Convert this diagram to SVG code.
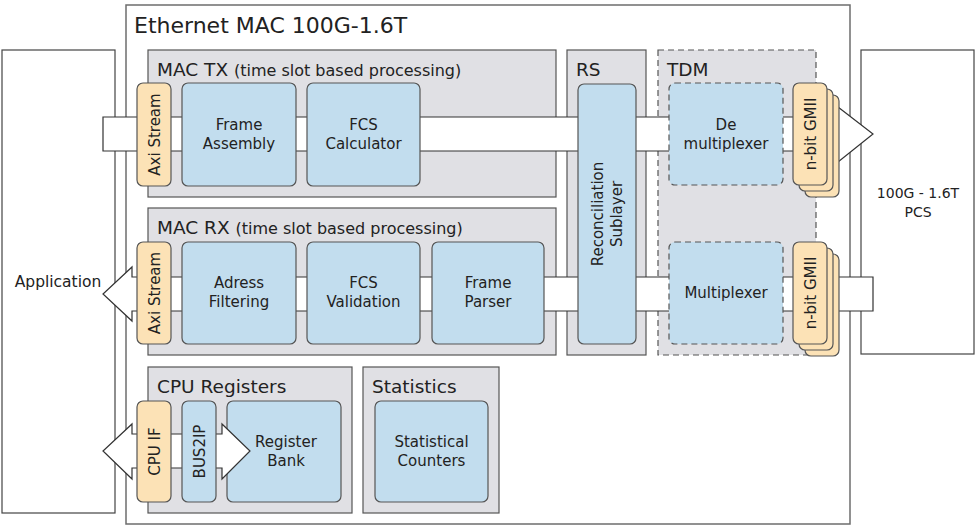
<svg xmlns="http://www.w3.org/2000/svg" width="976" height="526" viewBox="0 0 976 526">
<style>
text{font-family:'DejaVu Sans','Open Sans','Noto Sans',sans-serif;fill:#222;}
.lbl{font-size:15px;text-anchor:middle;}
.title{font-size:18.5px;}
.sub{font-size:16px;}
.grp{fill:#e0e0e4;stroke:#555;stroke-width:1.2;}
.blue{fill:#c2ddee;stroke:#555;stroke-width:1.2;}
.peach{fill:#fce2b6;stroke:#555;stroke-width:1.2;}
.dash{stroke-dasharray:6 4;}
.plain{fill:#fff;stroke:#444;stroke-width:1.2;}
.band{fill:#fff;stroke:#333;stroke-width:1.2;stroke-linejoin:miter;}
</style>
<rect width="976" height="526" fill="#fff"/>

<g id="ethernet-mac">
<rect x="126" y="5" width="724" height="519" fill="#fff" stroke="#6d6d6d" stroke-width="1.5"/>
<text x="134" y="33" style="font-size:22px">Ethernet MAC 100G-1.6T</text>
</g>

<g id="application">
<rect class="plain" x="2" y="50" width="113" height="463"/>
<text class="lbl" x="58" y="287" style="font-size:15.5px">Application</text>
</g>

<g id="pcs">
<rect class="plain" x="861" y="50" width="113" height="304"/>
<text x="918" y="198" style="font-size:14px;text-anchor:middle">100G - 1.6T</text>
<text x="918" y="217" style="font-size:14px;text-anchor:middle">PCS</text>
</g>

<g id="mac-tx">
<rect class="grp" x="148" y="50" width="408" height="147"/>
<text x="157" y="76"><tspan class="title">MAC TX </tspan><tspan class="sub">(time slot based processing)</tspan></text>
</g>

<g id="mac-rx">
<rect class="grp" x="148" y="208" width="408" height="147"/>
<text x="157" y="234"><tspan class="title">MAC RX </tspan><tspan class="sub">(time slot based processing)</tspan></text>
</g>

<g id="rs">
<rect class="grp" x="567" y="50" width="79" height="305"/>
<text class="title" x="576" y="76">RS</text>
</g>

<g id="tdm">
<rect class="grp dash" x="658" y="50" width="158" height="305"/>
<text class="title" x="667" y="76">TDM</text>
</g>

<g id="cpu-registers">
<rect class="grp" x="148" y="367" width="204" height="146"/>
<text class="title" x="157" y="393">CPU Registers</text>
</g>

<g id="statistics">
<rect class="grp" x="363" y="367" width="136" height="146"/>
<text class="title" x="372" y="393">Statistics</text>
</g>

<g id="register-bank">
<rect class="blue" x="227" y="401" width="114" height="101" rx="6"/>
<text class="lbl" x="286" y="447">Register</text>
<text class="lbl" x="286" y="466">Bank</text>
</g>

<g id="connectors">
<path class="band" d="M103,117 H838 V107 L873,134 L838,162 V151 H103 Z"/>
<path class="band" d="M873,277 V311 H132 V321 L103,294 L132,267 V277 Z"/>
<path class="band" d="M132,434 H222 V424 L250,451 L222,479 V468 H132 V479 L103,451 L132,424 Z"/>
</g>

<g id="axi-stream-tx">
<rect class="peach" x="137" y="83" width="34" height="103" rx="6"/>
<text class="lbl" transform="translate(154,134.5) rotate(-90)" y="5.5">Axi Stream</text>
</g>

<g id="frame-assembly">
<rect class="blue" x="182" y="83" width="114" height="103" rx="6"/>
<text class="lbl" x="239" y="130">Frame</text>
<text class="lbl" x="239" y="149">Assembly</text>
</g>

<g id="fcs-calculator">
<rect class="blue" x="307" y="83" width="113" height="103" rx="6"/>
<text class="lbl" x="363.5" y="130">FCS</text>
<text class="lbl" x="363.5" y="149">Calculator</text>
</g>

<g id="reconciliation-sublayer">
<rect class="blue" x="578" y="84" width="58" height="260" rx="6"/>
<text class="lbl" transform="translate(607,214) rotate(-90)" y="-4">Reconciliation</text>
<text class="lbl" transform="translate(607,214) rotate(-90)" y="15">Sublayer</text>
</g>

<g id="demultiplexer">
<rect class="blue dash" x="669" y="83" width="114" height="102" rx="6"/>
<text class="lbl" x="726" y="130">De</text>
<text class="lbl" x="726" y="149">multiplexer</text>
</g>

<g id="gmii-tx">
<rect class="peach" x="805" y="95" width="34" height="102" rx="6"/>
<rect class="peach" x="799" y="89" width="34" height="102" rx="6"/>
<rect class="peach" x="793" y="83" width="34" height="102" rx="6"/>
<text class="lbl" transform="translate(810,134) rotate(-90)" y="5.5">n-bit GMII</text>
</g>

<g id="axi-stream-rx">
<rect class="peach" x="137" y="242" width="34" height="102" rx="6"/>
<text class="lbl" transform="translate(154,293) rotate(-90)" y="5.5">Axi Stream</text>
</g>

<g id="adress-filtering">
<rect class="blue" x="182" y="242" width="114" height="102" rx="6"/>
<text class="lbl" x="239" y="288">Adress</text>
<text class="lbl" x="239" y="307">Filtering</text>
</g>

<g id="fcs-validation">
<rect class="blue" x="307" y="242" width="113" height="102" rx="6"/>
<text class="lbl" x="363.5" y="288">FCS</text>
<text class="lbl" x="363.5" y="307">Validation</text>
</g>

<g id="frame-parser">
<rect class="blue" x="432" y="242" width="112" height="102" rx="6"/>
<text class="lbl" x="488" y="288">Frame</text>
<text class="lbl" x="488" y="307">Parser</text>
</g>

<g id="multiplexer">
<rect class="blue dash" x="669" y="242" width="114" height="102" rx="6"/>
<text class="lbl" x="726" y="298">Multiplexer</text>
</g>

<g id="gmii-rx">
<rect class="peach" x="805" y="254" width="34" height="102" rx="6"/>
<rect class="peach" x="799" y="248" width="34" height="102" rx="6"/>
<rect class="peach" x="793" y="242" width="34" height="102" rx="6"/>
<text class="lbl" transform="translate(810,293) rotate(-90)" y="5.5">n-bit GMII</text>
</g>

<g id="cpu-if">
<rect class="peach" x="137" y="401" width="34" height="101" rx="6"/>
<text class="lbl" transform="translate(154,451.5) rotate(-90)" y="5.5">CPU IF</text>
</g>

<g id="bus2ip">
<rect class="blue" x="182" y="401" width="34" height="101" rx="6"/>
<text class="lbl" transform="translate(199,451.5) rotate(-90)" y="5.5">BUS2IP</text>
</g>

<g id="statistical-counters">
<rect class="blue" x="375" y="401" width="113" height="101" rx="6"/>
<text class="lbl" x="431.5" y="447">Statistical</text>
<text class="lbl" x="431.5" y="466">Counters</text>
</g>
</svg>
